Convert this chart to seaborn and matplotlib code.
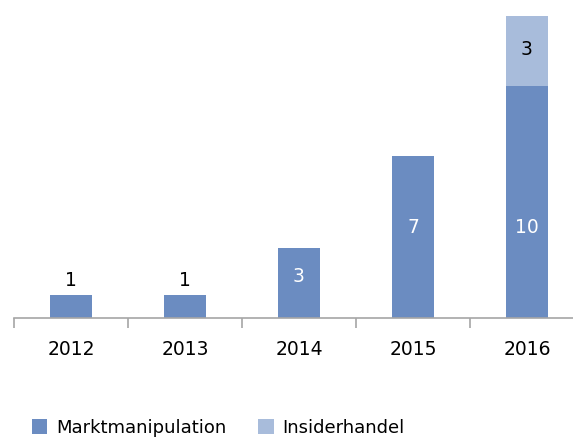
import matplotlib
matplotlib.use('Agg')
import matplotlib.pyplot as plt
import seaborn as sns
import pandas as pd

# Data
years = ['2012', '2013', '2014', '2015', '2016']
markt = [1, 1, 3, 7, 10]
insider = [0, 0, 0, 0, 3]
markt_label_y = [1.6, 1.6, 1.8, 3.9, 3.9]
insider_label_y = [0, 0, 0, 0, 11.55]

dark = '#6b8cc1'
light = '#a8bcdb'

sns.set_style('white')
plt.rcParams['font.family'] = ['DejaVu Sans']

df = pd.DataFrame({'Jahr': years, 'Marktmanipulation': markt, 'Insiderhandel': insider})

fig = plt.figure(figsize=(5.73, 4.4), dpi=100)
ax = fig.add_axes([14 / 573, 122 / 440, 570 / 573, 318 / 440])

sns.barplot(data=df, x='Jahr', y='Marktmanipulation', color=dark, width=0.37,
            saturation=1, linewidth=0, ax=ax, label='Marktmanipulation')
top = df[df['Insiderhandel'] > 0]
ax.bar([years.index(j) for j in top['Jahr']], top['Insiderhandel'],
       bottom=top['Marktmanipulation'], width=0.37, color=light, linewidth=0,
       label='Insiderhandel')

# Value labels
for i, v in enumerate(markt):
    col = 'black' if v == 1 else 'white'
    ax.text(i, markt_label_y[i], str(v), ha='center', va='center', fontsize=13.5, color=col)
for i, v in enumerate(insider):
    if v > 0:
        ax.text(i, insider_label_y[i], str(v), ha='center', va='center', fontsize=13.5, color='black')

ax.set_xlim(-0.5, 4.5)
ax.set_ylim(0, 13.7)
ax.set_xlabel('')
ax.set_ylabel('')
ax.set_yticks([])
for s in ['top', 'right', 'left']:
    ax.spines[s].set_visible(False)
ax.spines['bottom'].set_color('#a6a6a6')
ax.spines['bottom'].set_linewidth(1.2)

ax.set_xticks([0, 1, 2, 3, 4])
ax.set_xticklabels(years, fontsize=13.5, color='black')
ax.set_xticks([-0.5, 0.5, 1.5, 2.5, 3.5, 4.5], minor=True)
ax.tick_params(axis='x', which='major', bottom=False, length=0, pad=16)
ax.tick_params(axis='x', which='minor', bottom=True, length=7, width=1.2,
               color='#a6a6a6', direction='out')

leg = ax.legend(loc='center left', bbox_to_anchor=(18 / 570, -0.345), ncol=2, frameon=False,
                fontsize=13, handlelength=0.85, handleheight=0.85, columnspacing=1.75,
                handletextpad=0.5, borderaxespad=0, borderpad=0)
for t in leg.get_texts():
    t.set_color('black')

fig.savefig('out.png', dpi=100)
